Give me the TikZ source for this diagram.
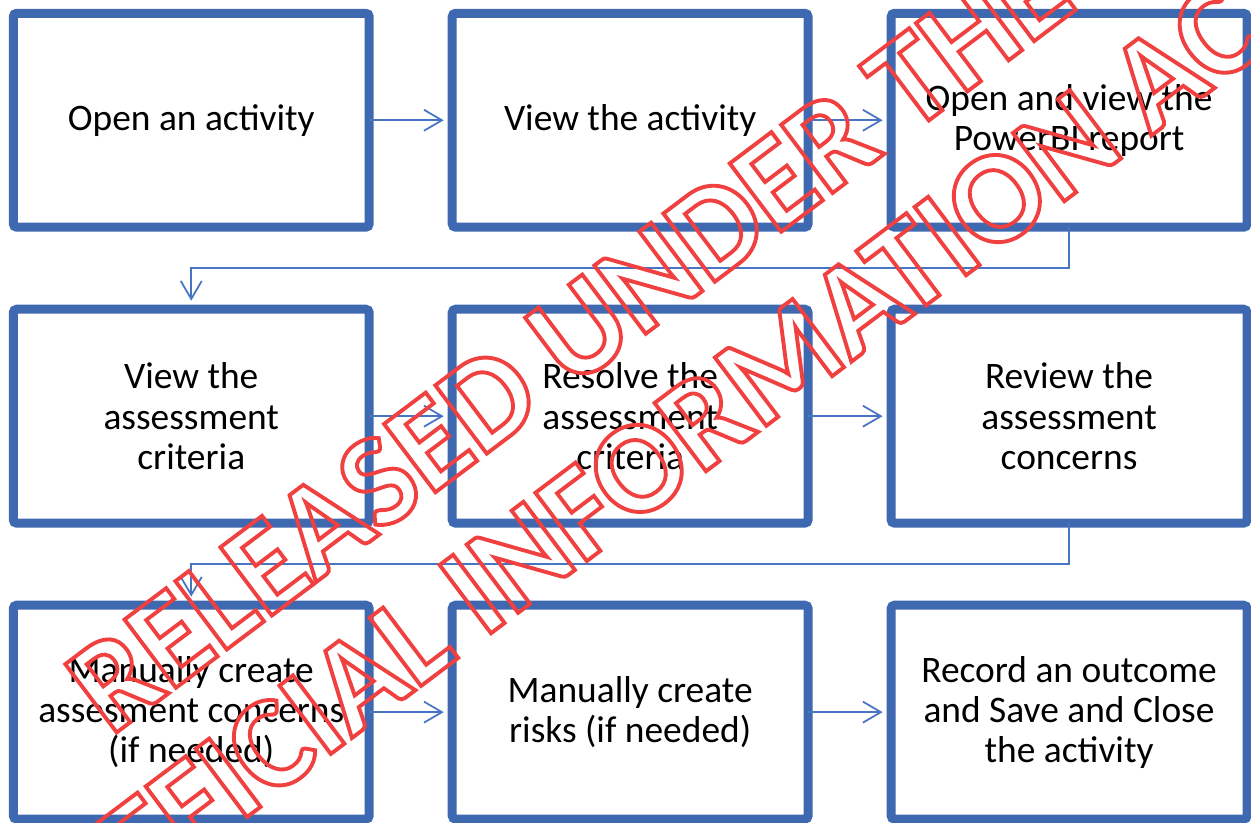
\documentclass[tikz,border=0pt]{standalone}
\usepackage{fontspec}
\setmainfont{Carlito}
\usetikzlibrary{arrows.meta, positioning, calc}
\definecolor{boxblue}{RGB}{62,104,176}
\definecolor{linkblue}{RGB}{72,116,196}
\definecolor{stampred}{RGB}{240,64,64}

% stroke-only glyphs for the release stamp
\newcommand{\outlinetext}[1]{\special{pdf:literal direct 1 Tr 2.2 w}#1\special{pdf:literal direct 0 Tr}}

\begin{document}
\begin{tikzpicture}[
    x=0.02cm, y=-0.02cm,
    node distance=1.64cm and 1.66cm,
    every node/.style={font=\fontsize{21.3}{22.8}\selectfont},
    block/.style={rectangle, draw=boxblue, line width=0.18cm, rounded corners=2pt, minimum width=7.12cm, minimum height=4.28cm, align=center, fill=white, outer sep=0pt, inner sep=2pt},
    arrow/.style={-{Straight Barb[length=0.36cm, width=0.42cm]}, draw=linkblue, line width=1pt, shorten >=0.17cm},
    stamp/.style={text=stampred, font=\fontsize{75}{94}\selectfont\bfseries, rotate=37, anchor=base},
]
\useasboundingbox (0,0) rectangle (1251,822);

% === Row 1 ===
\node[block] (open) at (191.25,120.25) {Open an activity};
\node[block, right=of open] (view) {View the activity};
\node[block, right=of view] (report) {Open and view the\\PowerBI report};

% === Row 2 ===
\node[block, below=of open] (criteria) {View the\\assessment\\criteria};
\node[block, right=of criteria] (resolve) {Resolve the\\assessment\\criteria};
\node[block, right=of resolve] (review) {Review the\\assessment\\concerns};

% === Row 3 ===
\node[block, below=of criteria] (concerns) {Manually create\\assesment concerns\\(if needed)};
\node[block, right=of concerns] (risks) {Manually create\\risks (if needed)};
\node[block, right=of risks] (outcome) {Record an outcome\\and Save and Close\\the activity};

% Flow
\draw[arrow] (open) -- (view);
\draw[arrow] (view) -- (report);
\coordinate (turnA) at ($(report.south)!0.5!(criteria.north)$);
\draw[arrow] (report.south) -- (report.south |- turnA) -| (criteria.north);

\draw[arrow] (criteria) -- (resolve);
\draw[arrow] (resolve) -- (review);
\coordinate (turnB) at ($(review.south)!0.5!(concerns.north)$);
\draw[arrow] (review.south) -- (review.south |- turnB) -| (concerns.north);

\draw[arrow] (concerns) -- (risks);
\draw[arrow] (risks) -- (outcome);

% Release stamp over everything
\node[stamp] (stampA) at (595,372) {\outlinetext{RELEASED UNDER THE}};
\node[stamp] (stampB) at (697,478) {\outlinetext{OFFICIAL INFORMATION ACT}};

\end{tikzpicture}
\end{document}
